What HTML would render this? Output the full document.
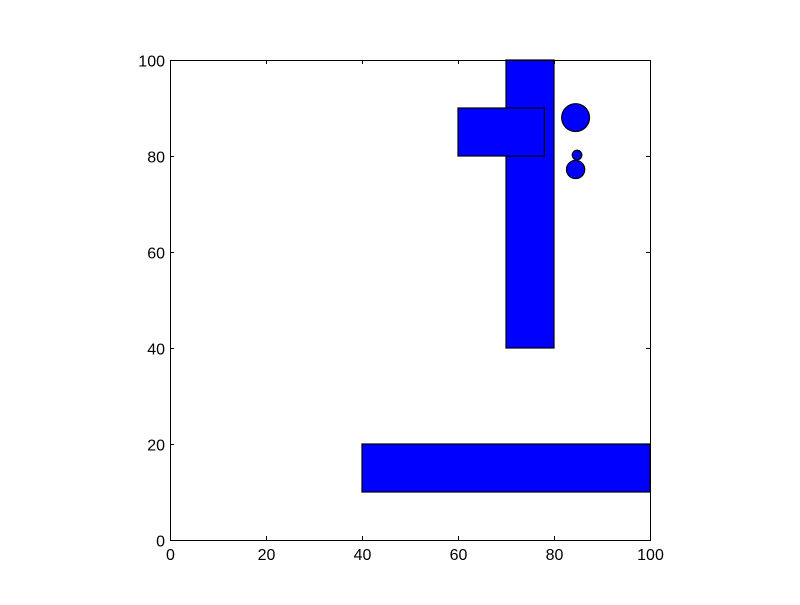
<!DOCTYPE html>
<html><head><meta charset="utf-8"><style>body{margin:0;background:#fff}</style></head>
<body>
<svg id="chart" width="800" height="600" xmlns="http://www.w3.org/2000/svg"></svg>
<script>
const rectX=[70,60,40], rectY=[40,80,10], rectW=[10,18,60], rectH=[60,10,10];
const circX=[84.5,84.8,84.5], circY=[88,80.2,77.2], circR=[2.9,1.0,1.9];
const xTicks=[0,20,40,60,80,100], yTicks=[0,20,40,60,80,100];
const L=170,T=60,W=480,H=480;
const sx=v=>L+v/100*W, sy=v=>T+H-v/100*H, s=v=>v/100*W;
const svg=document.getElementById('chart');const NS='http://www.w3.org/2000/svg';
function mk(t,a){const e=document.createElementNS(NS,t);for(const k in a)e.setAttribute(k,a[k]);svg.appendChild(e);return e;}
const bg=mk('rect',{x:L,y:T,width:W,height:H,fill:'#fff'});


rectX.forEach((x,i)=>{const r=mk('rect',{x:sx(x),y:sy(rectY[i]+rectH[i]),width:s(rectW[i]),height:s(rectH[i]),fill:'#0000ff',stroke:'#000','stroke-width':1.2});

});
circX.forEach((x,i)=>{const c=mk('circle',{cx:sx(x),cy:sy(circY[i]),r:s(circR[i]),fill:'#0000ff',stroke:'#000','stroke-width':1.2});

});
const fr=mk('rect',{x:L+0.5,y:T+0.5,width:W,height:H,fill:'none',stroke:'#000','stroke-width':1});


const fs={'font-family':'Liberation Sans, sans-serif','font-size':'16px'};
xTicks.forEach(v=>{const x=sx(v)+0.5;mk('line',{x1:x,x2:x,y1:T+H,y2:T+H-4,stroke:'#000'});mk('line',{x1:x,x2:x,y1:T,y2:T+4,stroke:'#000'});
const t=mk('text',Object.assign({x:x,y:T+H+20,'text-anchor':'middle'},fs));t.textContent=v;

});
yTicks.forEach(v=>{const y=sy(v)+0.5;mk('line',{x1:L,x2:L+4,y1:y,y2:y,stroke:'#000'});mk('line',{x1:L+W,x2:L+W-4,y1:y,y2:y,stroke:'#000'});
const t=mk('text',Object.assign({x:L-5,y:y+6,'text-anchor':'end'},fs));t.textContent=v;

});
</script>
</body></html>
